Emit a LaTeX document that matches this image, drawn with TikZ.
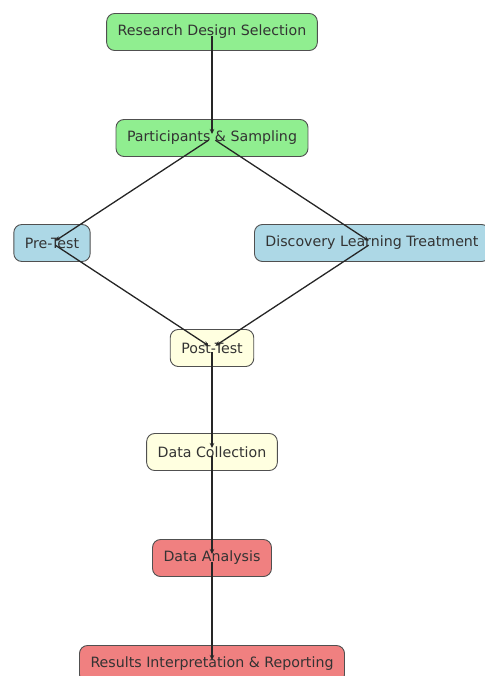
\documentclass[tikz,border=0pt]{standalone}
\usepackage{fontspec}
\setmainfont{DejaVu Sans}
\usetikzlibrary{arrows.meta}

\definecolor{boxgreen}{HTML}{90EE90}
\definecolor{boxblue}{HTML}{ADD8E6}
\definecolor{boxyellow}{HTML}{FFFFE0}
\definecolor{boxred}{HTML}{F08080}
\definecolor{boxline}{HTML}{505050}
\definecolor{boxtext}{HTML}{333333}

\tikzset{
    stepbox/.style={draw=boxline, line width=0.9bp, rounded corners=8bp,
        minimum height=37bp, inner xsep=11bp, text=boxtext,
        font=\fontsize{14.2bp}{16bp}\selectfont},
    flow/.style={line width=1.3bp, draw=black!85,
        -{Stealth[length=5bp,width=4.5bp]}, shorten <=4bp, shorten >=4bp}
}

\begin{document}
\begin{tikzpicture}[x=1bp, y=-1bp]
        \useasboundingbox (0,0) rectangle (485,676);

        \node[stepbox, fill=boxgreen] (rds) at (212, 32) {Research Design Selection};
        \node[stepbox, fill=boxgreen] (ps) at (212, 138) {Participants \& Sampling};

        \node[stepbox, fill=boxblue] (pre) at (52, 243) {Pre-Test};
        \node[stepbox, fill=boxblue] (dlt) at (372, 243) {Discovery Learning Treatment};

        \node[stepbox, fill=boxyellow] (post) at (212, 348) {Post-Test};
        \node[stepbox, fill=boxyellow] (dc) at (212, 452) {Data Collection};

        \node[stepbox, fill=boxred] (da) at (212, 558) {Data Analysis};
        \node[stepbox, fill=boxred] (res) at (212, 664) {Results Interpretation \& Reporting};

        \draw[flow] (rds.center) -- (ps.center);
        \draw[flow] (ps.center) -- (pre.center);
        \draw[flow] (ps.center) -- (dlt.center);

        \draw[flow] (pre.center) -- (post.center);
        \draw[flow] (dlt.center) -- (post.center);

        \draw[flow] (post.center) -- (dc.center);
        \draw[flow] (dc.center) -- (da.center);
        \draw[flow] (da.center) -- (res.center);
    \end{tikzpicture}
\end{document}
